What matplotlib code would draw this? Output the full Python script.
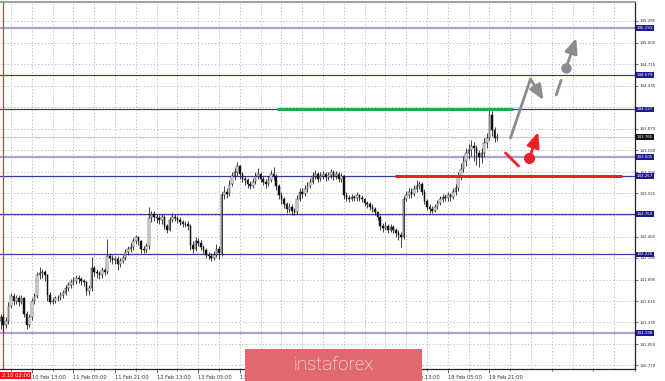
import matplotlib
matplotlib.use('Agg')
import matplotlib.pyplot as plt
from matplotlib.patches import Rectangle

# ---------------- data (H1 candles) ----------------
first_open = 141.35
closes = [141.40, 141.30, 141.35, 141.55, 141.68, 141.62, 141.66, 141.60, 141.65, 141.45,
          141.30, 141.40, 141.62, 141.68, 141.95, 141.98, 142.00, 141.95, 141.70, 141.60,
          141.62, 141.65, 141.66, 141.70, 141.72, 141.78, 141.82, 141.86, 141.88, 141.92,
          141.90, 141.88, 141.86, 141.75, 141.78, 142.05, 142.00, 141.98, 141.95, 142.02,
          142.00, 142.20, 142.18, 142.15, 142.17, 142.10, 142.14, 142.18, 142.26, 142.30,
          142.32, 142.40, 142.45, 142.40, 142.30, 142.28, 142.33, 142.70, 142.75, 142.72,
          142.70, 142.68, 142.72, 142.60, 142.55, 142.68, 142.72, 142.70, 142.68, 142.65,
          142.62, 142.63, 142.60, 142.35, 142.30, 142.40, 142.38, 142.32, 142.28, 142.22,
          142.20, 142.18, 142.22, 142.30, 142.25, 143.00, 143.05, 143.02, 143.15, 143.25,
          143.30, 143.38, 143.28, 143.22, 143.20, 143.15, 143.12, 143.18, 143.25, 143.28,
          143.22, 143.18, 143.15, 143.20, 143.28, 143.25, 143.12, 143.00, 142.95, 142.88,
          142.82, 142.85, 142.80, 142.78, 142.95, 143.05, 143.02, 143.08, 143.12, 143.18,
          143.25, 143.28, 143.22, 143.26, 143.28, 143.24, 143.27, 143.30, 143.25, 143.28,
          143.22, 143.25, 143.00, 142.97, 142.95, 142.98, 142.96, 143.00, 142.97, 142.95,
          142.90, 142.88, 142.85, 142.82, 142.78, 142.72, 142.60, 142.57, 142.60, 142.55,
          142.58, 142.54, 142.50, 142.48, 142.45, 142.95, 143.00, 143.05, 143.02, 143.08,
          143.12, 143.15, 143.05, 142.92, 142.85, 142.82, 142.80, 142.85, 142.90, 142.95,
          142.98, 142.97, 143.00, 142.98, 143.05, 143.10, 143.25, 143.35, 143.45, 143.55,
          143.60, 143.65, 143.62, 143.55, 143.50, 143.55, 143.68, 143.75, 144.05, 143.85,
          143.75, 143.77]
highs = [141.45, 141.44, 141.40, 141.60, 141.72, 141.72, 141.70, 141.69, 141.69, 141.67,
         141.48, 141.44, 141.66, 141.72, 142.00, 142.06, 142.04, 142.02, 141.97, 141.73,
         141.66, 141.68, 141.70, 141.73, 141.76, 141.82, 141.86, 141.90, 141.93, 141.95,
         141.95, 141.93, 141.91, 141.88, 141.83, 142.19, 142.08, 142.04, 142.01, 142.06,
         142.05, 142.43, 142.25, 142.22, 142.21, 142.20, 142.18, 142.22, 142.30, 142.34,
         142.37, 142.44, 142.48, 142.47, 142.42, 142.34, 142.38, 142.85, 142.80, 142.79,
         142.76, 142.74, 142.76, 142.74, 142.63, 142.72, 142.77, 142.75, 142.73, 142.71,
         142.68, 142.67, 142.66, 142.62, 142.40, 142.46, 142.44, 142.41, 142.35, 142.31,
         142.26, 142.24, 142.27, 142.36, 142.34, 143.05, 143.12, 143.09, 143.20, 143.30,
         143.36, 143.44, 143.40, 143.31, 143.26, 143.23, 143.19, 143.23, 143.30, 143.36,
         143.31, 143.26, 143.22, 143.25, 143.33, 143.37, 143.28, 143.15, 143.04, 142.98,
         142.91, 142.90, 142.88, 142.84, 143.00, 143.10, 143.09, 143.13, 143.17, 143.23,
         143.30, 143.33, 143.31, 143.30, 143.32, 143.31, 143.31, 143.34, 143.33, 143.32,
         143.31, 143.29, 143.27, 143.04, 143.01, 143.02, 143.01, 143.04, 143.02, 143.00,
         142.97, 142.93, 142.91, 142.88, 142.85, 142.80, 142.74, 142.64, 142.65, 142.63,
         142.62, 142.61, 142.57, 142.54, 142.52, 142.99, 143.06, 143.10, 143.09, 143.13,
         143.20, 143.19, 143.17, 143.08, 142.95, 142.88, 142.86, 142.89, 142.94, 142.99,
         143.02, 143.02, 143.04, 143.03, 143.10, 143.15, 143.30, 143.42, 143.52, 143.62,
         143.67, 143.72, 143.70, 143.66, 143.60, 143.62, 143.75, 143.82, 144.13, 144.10,
         143.90, 143.82]
lows = [141.25, 141.21, 141.26, 141.32, 141.52, 141.56, 141.58, 141.55, 141.57, 141.40,
        141.25, 141.27, 141.37, 141.58, 141.65, 141.90, 141.92, 141.88, 141.62, 141.57,
        141.57, 141.59, 141.61, 141.63, 141.66, 141.69, 141.75, 141.78, 141.82, 141.84,
        141.85, 141.83, 141.81, 141.69, 141.70, 141.75, 141.94, 141.92, 141.90, 141.92,
        141.95, 141.97, 142.12, 142.10, 142.10, 142.02, 142.06, 142.11, 142.15, 142.22,
        142.26, 142.29, 142.36, 142.35, 142.25, 142.24, 142.25, 142.30, 142.65, 142.66,
        142.64, 142.62, 142.63, 142.56, 142.50, 142.53, 142.65, 142.66, 142.64, 142.61,
        142.58, 142.59, 142.55, 142.28, 142.25, 142.27, 142.33, 142.28, 142.24, 142.18,
        142.16, 142.14, 142.15, 142.19, 142.17, 142.20, 142.95, 142.96, 142.99, 143.12,
        143.20, 143.26, 143.22, 143.17, 143.14, 143.10, 143.08, 143.09, 143.15, 143.21,
        143.17, 143.13, 143.10, 143.12, 143.17, 143.20, 143.07, 142.95, 142.89, 142.83,
        142.77, 142.78, 142.74, 142.74, 142.76, 142.92, 142.97, 142.99, 143.04, 143.09,
        143.15, 143.21, 143.18, 143.19, 143.22, 143.19, 143.20, 143.23, 143.20, 143.21,
        143.17, 143.18, 142.95, 142.93, 142.91, 142.92, 142.92, 142.93, 142.93, 142.91,
        142.86, 142.84, 142.81, 142.78, 142.74, 142.68, 142.55, 142.52, 142.54, 142.51,
        142.52, 142.50, 142.46, 142.42, 142.32, 142.43, 142.92, 142.96, 142.97, 142.99,
        143.04, 143.08, 143.00, 142.88, 142.81, 142.77, 142.77, 142.78, 142.82, 142.87,
        142.91, 142.93, 142.93, 142.93, 142.95, 143.00, 143.06, 143.20, 143.30, 143.38,
        143.48, 143.52, 143.45, 143.40, 143.37, 143.42, 143.50, 143.62, 143.72, 143.78,
        143.70, 143.71]

x_labels = ["10 Feb 13:00", "11 Feb 05:00", "11 Feb 21:00", "12 Feb 13:00",
            "13 Feb 05:00", "13 Feb 21:00", "14 Feb 13:00", "17 Feb 05:00",
            "17 Feb 21:00", "18 Feb 13:00", "19 Feb 05:00", "19 Feb 21:00"]
y_ticks = [145.285, 145.000, 144.715, 144.435, 144.155, 143.870, 143.590, 143.305,
           143.025, 142.740, 142.460, 142.180, 141.895, 141.615, 141.335, 141.050, 140.770]
y_hidden = [144.155, 142.740]   # covered by level boxes in the reference
levels = [145.193, 144.579, 144.127, 143.505, 143.257, 142.754, 142.225, 141.198]
level_strong = [True, False, False, True, False, False, False, True]
current_price = 143.765

green_level = 144.127
green_span = (106.2, 196.9)
red_level = 143.257
red_span = (151.7, 239.0)

# forecast sketch (bar index, price)
gray_path = [(196.1, 143.751), (203.8, 144.525), (208.8, 144.249)]
gray_dash = [(213.7, 144.315), (215.6, 144.510)]
gray_dot = (217.5, 144.669)
gray_tip = (221.4, 145.062)
red_seg = [(194.2, 143.555), (199.2, 143.384)]
red_dot = (203.4, 143.489)
red_tip = (206.8, 143.830)

# ---------------- figure ----------------
W, H = 665, 381
fig = plt.figure(figsize=(W / 100, H / 100), dpi=100)
fig.patch.set_facecolor('white')
ax = fig.add_axes([0, (H - 369) / H, 635 / W, 367 / H])
ax.set_xlim(-0.25, 242.8)
ax.set_ylim(140.724, 145.534)

NAVY = '#3a3aa6'
LAV = '#a3a3d6'
GRAY = '#8c8c8c'
RED = '#ee1f26'

# grid
minor_x = [4 + 16 * k for k in range(16)]
major_x = [12 + 16 * k for k in range(len(x_labels))]
for xv in sorted(set(minor_x + major_x + [12 + 16 * k for k in range(12, 15)])):
    ax.axvline(xv, color='#c4c4c4', lw=0.7, ls=(0, (1.5, 2)), zorder=0)
for yv in y_ticks:
    ax.axhline(yv, color='#c4c4c4', lw=0.7, ls=(0, (1.5, 2)), zorder=0)

# levels
for lv, strong in zip(levels, level_strong):
    if strong:
        ax.axhline(lv, color=LAV, lw=1.6, zorder=1)
    else:
        ax.axhline(lv, color=NAVY, lw=0.9, zorder=1)
ax.axhline(current_price, color='#c8c8c8', lw=0.8, zorder=1)

# period separator
ax.axvline(1, color='#f03030', lw=0.9, zorder=1)

# candles
opens = [first_open] + closes[:-1]
idx = list(range(len(closes)))
ax.vlines(idx, lows, highs, color='#111111', lw=0.55, zorder=3)
for i, o, c in zip(idx, opens, closes):
    bottom = min(o, c)
    h = max(abs(c - o), 0.006)
    fc = 'white' if c >= o else '#111111'
    ax.add_patch(Rectangle((i - 0.32, bottom), 0.64, h, facecolor=fc,
                           edgecolor='#111111', linewidth=0.35, zorder=4))

# green and red horizontal segments
ax.plot(green_span, [green_level, green_level], color='#27a844', lw=2.2,
        solid_capstyle='butt', zorder=5)
ax.plot(red_span, [red_level, red_level], color=RED, lw=2.2,
        solid_capstyle='butt', zorder=5)

arrow_style = '-|>,head_length=0.9,head_width=0.38'
# forecast sketch - gray
ax.plot([gray_path[0][0], gray_path[1][0]], [gray_path[0][1], gray_path[1][1]],
        color=GRAY, lw=2.0, solid_capstyle='round', zorder=6)
ax.annotate('', xy=gray_path[2], xytext=gray_path[1],
            arrowprops=dict(arrowstyle=arrow_style, color=GRAY, lw=2.0,
                            shrinkA=0, shrinkB=0), zorder=6)
ax.plot([p[0] for p in gray_dash], [p[1] for p in gray_dash], color=GRAY, lw=2.0,
        solid_capstyle='round', zorder=6)
ax.annotate('', xy=gray_tip, xytext=gray_dot,
            arrowprops=dict(arrowstyle=arrow_style, color=GRAY, lw=2.0,
                            shrinkA=0, shrinkB=0), zorder=6)
ax.plot([gray_dot[0]], [gray_dot[1]], 'o', color=GRAY, ms=6.5, zorder=7)

# forecast sketch - red
ax.plot([p[0] for p in red_seg], [p[1] for p in red_seg], color=RED, lw=2.0,
        solid_capstyle='round', zorder=6)
ax.annotate('', xy=red_tip, xytext=red_dot,
            arrowprops=dict(arrowstyle=arrow_style, color=RED, lw=2.0,
                            shrinkA=0, shrinkB=0), zorder=6)
ax.plot([red_dot[0]], [red_dot[1]], 'o', color=RED, ms=7, zorder=7)

# axes styling
ax.spines['left'].set_visible(False)
ax.spines['top'].set_color('#909090')
ax.spines['top'].set_linewidth(1.2)
ax.spines['right'].set_color('#222222')
ax.spines['bottom'].set_color('#222222')
ax.spines['right'].set_linewidth(0.9)
ax.spines['bottom'].set_linewidth(0.9)

ax.yaxis.tick_right()
ax.set_yticks(y_ticks)
ax.set_yticklabels(["" if v in y_hidden else f"{v:.3f}" for v in y_ticks])
ax.tick_params(axis='y', labelsize=2.9, length=2, width=0.5, pad=1.5,
               colors='#333333', labelcolor='#333333')
ax.set_xticks(major_x)
ax.set_xticklabels(x_labels, ha='left')
ax.set_xticks(minor_x, minor=True)
ax.tick_params(axis='x', which='major', labelsize=3.7, length=3, width=0.5,
               pad=1.5, colors='#333333')
ax.tick_params(axis='x', which='minor', length=1.5, width=0.5, colors='#333333')
for lbl in ax.get_xticklabels():
    lbl.set_horizontalalignment('left')

# level value boxes on the price scale
for lv in levels:
    ax.text(1.0 + 1.5 / 635, lv, f"{lv:.3f}", transform=ax.get_yaxis_transform(),
            fontsize=2.9, color='white', ha='left', va='center', clip_on=False,
            zorder=10, bbox=dict(boxstyle='square,pad=0.2', fc='#1c1c8e', ec='none'))
ax.text(1.0 + 1.5 / 635, current_price, f"{current_price:.3f}",
        transform=ax.get_yaxis_transform(), fontsize=2.9, color='white', ha='left',
        va='center', clip_on=False, zorder=10,
        bbox=dict(boxstyle='square,pad=0.2', fc='#111111', ec='none'))

# bottom-left time label (visible part in the reference)
fig.text(1.5 / W, 1 - 375.5 / H, "2.10 02:00", ha='left', va='center',
         fontsize=3.7, color='white',
         bbox=dict(boxstyle='square,pad=0.25', fc='#ff1010', ec='none'))

# logo
fig.patches.append(Rectangle((245 / W, 0), 177 / W, 32 / H, transform=fig.transFigure,
                             facecolor='#e0686e', edgecolor='none', zorder=20))
fig.text(333.5 / W, 16 / H, "instaforex", ha='center', va='center', fontsize=13.5,
         color='white', family='Roboto', fontweight='light', zorder=21)

fig.savefig('out.png', dpi=100)
